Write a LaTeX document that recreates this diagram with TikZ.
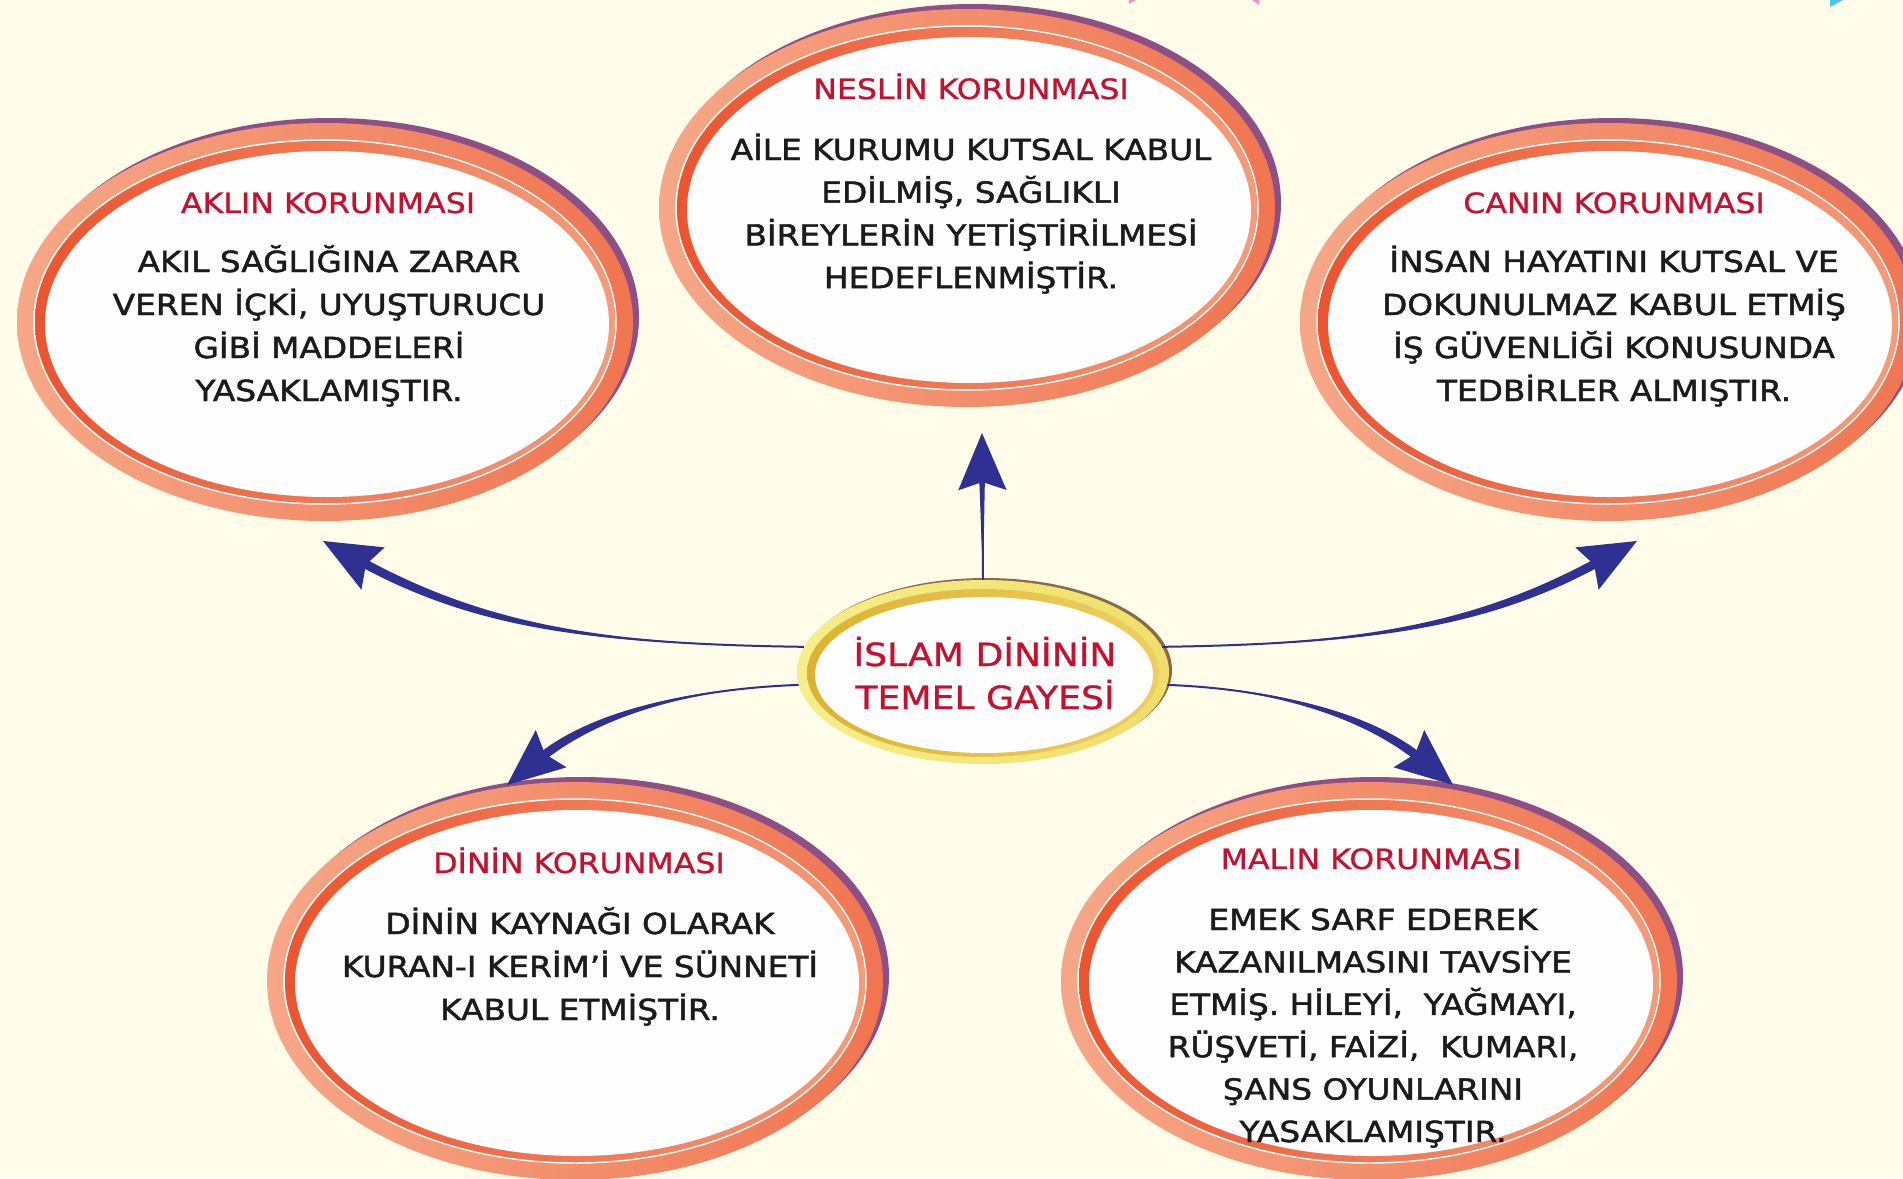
\documentclass[tikz,border=0pt]{standalone}
\usepackage{fontspec}
\setmainfont{DejaVu Sans}
\newfontfamily\bodyfont[FakeStretch=1.13,FakeBold=1.6]{DejaVu Sans}
\newfontfamily\titlefont[FakeStretch=1.13,FakeBold=0.9]{DejaVu Sans}
\usetikzlibrary{shapes.geometric,arrows.meta,calc}
\definecolor{bg}{HTML}{FFFCEA}
\definecolor{rimpurple}{HTML}{8C4F86}
\definecolor{ringpale}{HTML}{F6A787}
\definecolor{ringorange}{HTML}{F07550}
\definecolor{innerred}{HTML}{EC5430}
\definecolor{innerpale}{HTML}{F59C7A}
\definecolor{interior}{HTML}{FEFEFE}
\definecolor{titlered}{HTML}{C8102E}
\definecolor{bodyblack}{HTML}{1E1A1B}
\definecolor{arrowblue}{HTML}{2E3192}
\definecolor{goldrim}{HTML}{8A6B45}
\definecolor{yelA}{HTML}{F5EE8A}
\definecolor{yelB}{HTML}{F0DE6A}
\definecolor{goldA}{HTML}{DDB232}
\definecolor{goldB}{HTML}{EDD060}
\definecolor{pinkmark}{HTML}{F48FC0}
\definecolor{cyanmark}{HTML}{4FC3EE}
\newcommand\bubblering[3]{%
  \fill[rimpurple] (#2+6,#3-5) ellipse [x radius=308,y radius=199];
  \shade[left color=ringpale,right color=ringorange] (#2,#3) ellipse [x radius=308,y radius=199];
  \draw[white,line width=1.5pt] (#2,#3) ellipse [x radius=291,y radius=182];
  \shade[left color=innerred,right color=innerpale] (#2,#3) ellipse [x radius=290,y radius=181];
  \fill[interior] (#2+2,#3+2) ellipse [x radius=282,y radius=173];
  \node[bubble] (#1) at (#2,#3) {};
}
\newcommand\txtlines[5]{%
  \foreach \l [count=\i] in {#5} {\node[bodytext,anchor=base] (#1-\i) at (#2,{#3+(\i-1)*#4}) {\l};}%
}
\begin{document}
\begin{tikzpicture}[x=1pt,y=-1pt,
  bubble/.style={ellipse,minimum width=616pt,minimum height=398pt,inner sep=0pt,draw=none},
  centerell/.style={ellipse,minimum width=372pt,minimum height=184pt,inner sep=0pt,draw=none},
  bodytext/.style={font=\bodyfont\fontsize{29pt}{35pt}\selectfont,text=bodyblack,inner sep=0pt},
  titletext/.style={font=\titlefont\fontsize{28pt}{34pt}\selectfont,text=titlered,inner sep=0pt,anchor=base},
  centertext/.style={font=\titlefont\fontsize{32pt}{38pt}\selectfont,text=titlered,inner sep=0pt,anchor=base},
  conn/.style={draw=arrowblue,line width=2pt,-{Stealth[length=57pt,width=48pt,inset=8pt]}},
  taper/.style={fill=arrowblue}]
\useasboundingbox (0,0) rectangle (1903,1178);
\fill[bg] (0,0) rectangle (1903,1178);
% small marks at the top edge
\fill[pinkmark] (1129,0) -- (1136,0) -- (1129,4) -- cycle;
\fill[pinkmark] (1252,0) -- (1259,0) -- (1259,5) -- cycle;
\fill[cyanmark] (1830,0) -- (1843,0) -- (1830,7) -- cycle;

% bubbles
\bubblering{neslin}{967}{208}
\bubblering{aklin}{325}{322}
\bubblering{canin}{1608}{322}
\bubblering{dinin}{575}{981}
\bubblering{malin}{1369}{981}

% titles
\node[titletext] (neslin-t) at (971,99) {NESLİN KORUNMASI};
\node[titletext] (aklin-t) at (328,213) {AKLIN KORUNMASI};
\node[titletext] (canin-t) at (1614,213) {CANIN KORUNMASI};
\node[titletext] (dinin-t) at (579,873) {DİNİN KORUNMASI};
\node[titletext] (malin-t) at (1371,869) {MALIN KORUNMASI};

% bodies
\txtlines{neslin-b}{971}{160}{42.7}{AİLE KURUMU KUTSAL KABUL,{EDİLMİŞ, SAĞLIKLI},BİREYLERİN YETİŞTİRİLMESİ,HEDEFLENMİŞTİR.}
\txtlines{aklin-b}{329}{272}{43}{AKIL SAĞLIĞINA ZARAR,{VEREN İÇKİ, UYUŞTURUCU},GİBİ MADDELERİ,YASAKLAMIŞTIR.}
\txtlines{canin-b}{1614}{272}{43}{İNSAN HAYATINI KUTSAL VE,DOKUNULMAZ KABUL ETMİŞ,İŞ GÜVENLİĞİ KONUSUNDA,TEDBİRLER ALMIŞTIR.}
\txtlines{dinin-b}{580}{934}{43}{DİNİN KAYNAĞI OLARAK,KURAN-I KERİM’İ VE SÜNNETİ,KABUL ETMİŞTİR.}
\txtlines{malin-b}{1373}{930}{42.4}{EMEK SARF EDEREK,KAZANILMASINI TAVSİYE,{ETMİŞ. HİLEYİ,~~YAĞMAYI,},{RÜŞVETİ, FAİZİ,~~KUMARI,},ŞANS OYUNLARINI,YASAKLAMIŞTIR.}

% center ellipse
\fill[goldrim] (986,670) ellipse [x radius=186,y radius=92];
\shade[left color=yelA,right color=yelB] (983,672) ellipse [x radius=186,y radius=92];
\shade[left color=goldA,right color=goldB] (983,673) ellipse [x radius=176,y radius=84];
\fill[interior] (984,675) ellipse [x radius=169,y radius=78];
\node[centerell] (gaye) at (983,672) {};
\node[centertext] (gaye-1) at (985,666) {İSLAM DİNİNİN};
\node[centertext] (gaye-2) at (985,709) {TEMEL GAYESİ};

% arrow coordinates
\coordinate (tipN) at (982,433);
\coordinate (eN) at (982,473);
\coordinate (tipL) at (323,541);
\coordinate (c1L) at (601,644);
\coordinate (c2L) at (481,628);
\coordinate (eL) at (358,560);
\coordinate (tipR) at (1637,541);
\coordinate (c1R) at (1359,644);
\coordinate (c2R) at (1479,628);
\coordinate (eR) at (1602,560);
\coordinate (tipBL) at (507,785);
\coordinate (c1BL) at (685,689);
\coordinate (c2BL) at (592,715);
\coordinate (eBL) at (538,760);
\coordinate (tipBR) at (1453,785);
\coordinate (c1BR) at (1275,689);
\coordinate (c2BR) at (1368,715);
\coordinate (eBR) at (1422,760);

% tapered bodies
\fill[taper] (gaye.north) -- ($(eN)!3pt!90:(tipN)$) -- ($(eN)!3pt!-90:(tipN)$) -- cycle;
\fill[taper] (gaye.172) .. controls (c1L) and ($(c2L)!4.5pt!90:(tipL)$) .. ($(eL)!4.5pt!90:(tipL)$) -- ($(eL)!4.5pt!-90:(tipL)$) .. controls ($(c2L)!4.5pt!-90:(tipL)$) and (c1L) .. (gaye.172) -- cycle;
\fill[taper] (gaye.8) .. controls (c1R) and ($(c2R)!4.5pt!90:(tipR)$) .. ($(eR)!4.5pt!90:(tipR)$) -- ($(eR)!4.5pt!-90:(tipR)$) .. controls ($(c2R)!4.5pt!-90:(tipR)$) and (c1R) .. (gaye.8) -- cycle;
\fill[taper] (gaye.184) .. controls (c1BL) and ($(c2BL)!4.5pt!90:(tipBL)$) .. ($(eBL)!4.5pt!90:(tipBL)$) -- ($(eBL)!4.5pt!-90:(tipBL)$) .. controls ($(c2BL)!4.5pt!-90:(tipBL)$) and (c1BL) .. (gaye.184) -- cycle;
\fill[taper] (gaye.-4) .. controls (c1BR) and ($(c2BR)!4.5pt!90:(tipBR)$) .. ($(eBR)!4.5pt!90:(tipBR)$) -- ($(eBR)!4.5pt!-90:(tipBR)$) .. controls ($(c2BR)!4.5pt!-90:(tipBR)$) and (c1BR) .. (gaye.-4) -- cycle;

% connectors
\draw[conn] (gaye.north) -- (tipN);
\draw[conn] (gaye.172) .. controls (c1L) and (c2L) .. (tipL);
\draw[conn] (gaye.8) .. controls (c1R) and (c2R) .. (tipR);
\draw[conn] (gaye.184) .. controls (c1BL) and (c2BL) .. (tipBL);
\draw[conn] (gaye.-4) .. controls (c1BR) and (c2BR) .. (tipBR);
\end{tikzpicture}
\end{document}
